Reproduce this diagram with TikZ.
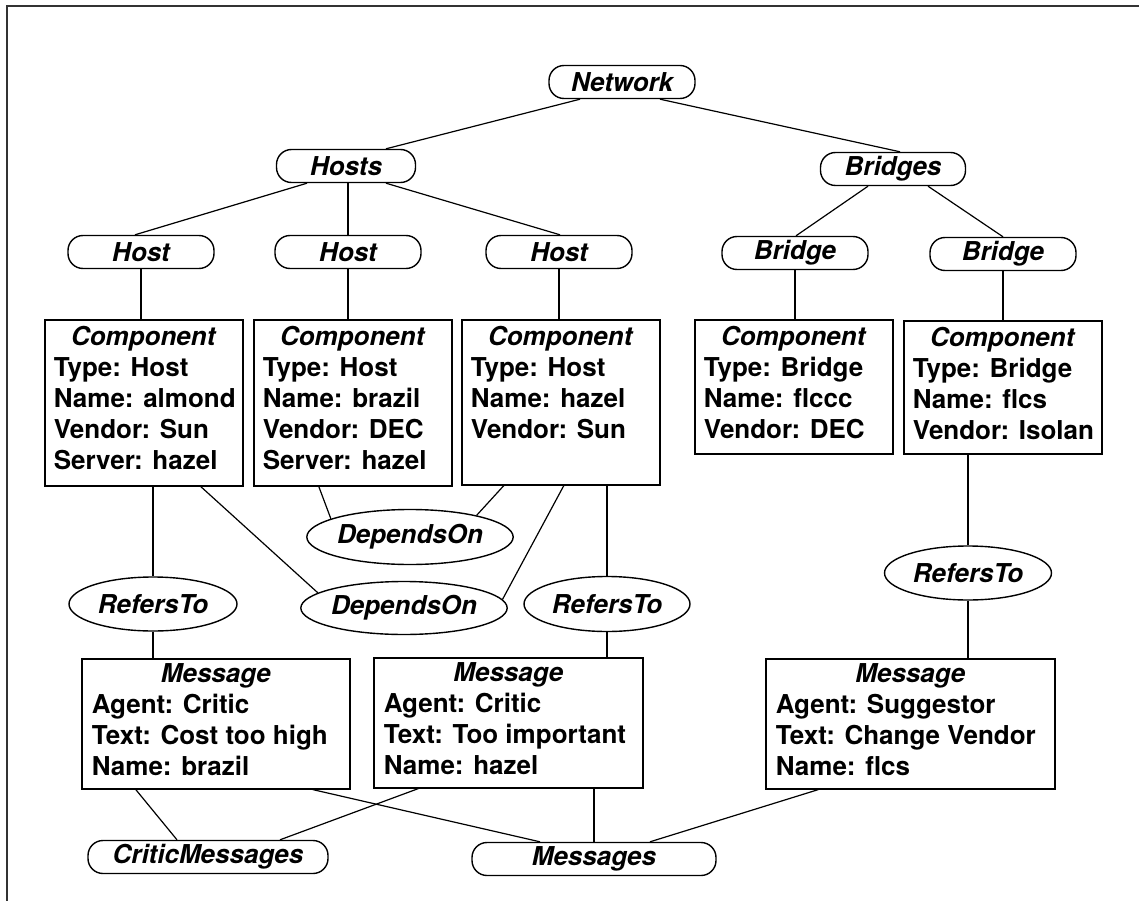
\documentclass[tikz,border=0pt]{standalone}
\usepackage{fontspec}
\setmainfont{TeX Gyre Heros}
\usetikzlibrary{shapes.geometric}
\begin{document}
\begin{tikzpicture}[x=1pt,y=-1pt,
  every node/.style={font=\fontsize{26}{31}\selectfont\bfseries},
  pill/.style={draw, line width=1.4pt, rounded corners=15pt, minimum height=33pt, inner sep=0pt, font=\fontsize{26}{31}\selectfont\bfseries\itshape},
  oval/.style={draw, line width=1.4pt, ellipse, inner sep=0pt, font=\fontsize{26}{31}\selectfont\bfseries\itshape},
  rec/.style={draw, line width=1.6pt, inner sep=0pt, anchor=north west},
  link/.style={line width=1.2pt}
]
\useasboundingbox (0,0) rectangle (1139,901);
\draw[line width=2.2pt, black!80] (7,901) -- (7,6) -- (1139,6);

% tree nodes
\node[pill, minimum width=146pt] (net) at (622,82) {Network};
\node[pill, minimum width=139pt] (hosts) at (346,166) {Hosts};
\node[pill, minimum width=145pt] (bridges) at (893,169) {Bridges};
\node[pill, minimum width=146pt] (h1) at (141,252) {Host};
\node[pill, minimum width=146pt] (h2) at (348,252) {Host};
\node[pill, minimum width=146pt] (h3) at (559,252) {Host};
\node[pill, minimum width=146pt] (b1) at (795,253) {Bridge};
\node[pill, minimum width=146pt] (b2) at (1003,254) {Bridge};

% components
\node[rec] (c1) at (44,319) {\parbox[c][166pt][t]{198pt}{\centering\rule{0pt}{26pt}\textit{Component}\par\raggedright\leftskip=9pt Type: Host\\Name: almond\\Vendor: Sun\\Server: hazel}};
\node[rec] (c2) at (253,319) {\parbox[c][166pt][t]{198pt}{\centering\rule{0pt}{26pt}\textit{Component}\par\raggedright\leftskip=9pt Type: Host\\Name: brazil\\Vendor: DEC\\Server: hazel}};
\node[rec] (c3) at (461,319) {\parbox[c][165pt][t]{198pt}{\centering\rule{0pt}{26pt}\textit{Component}\par\raggedright\leftskip=9pt Type: Host\\Name: hazel\\Vendor: Sun}};
\node[rec] (c4) at (694,319) {\parbox[c][134pt][t]{198pt}{\centering\rule{0pt}{26pt}\textit{Component}\par\raggedright\leftskip=9pt Type: Bridge\\Name: flccc\\Vendor: DEC}};
\node[rec] (c5) at (903,320) {\parbox[c][133pt][t]{198pt}{\centering\rule{0pt}{26pt}\textit{Component}\par\raggedright\leftskip=9pt Type: Bridge\\Name: flcs\\Vendor: Isolan}};

% relations
\node[oval, minimum width=168pt, minimum height=54pt] (r1) at (153,604) {RefersTo};
\node[oval, minimum width=184pt, minimum height=55pt] (d1) at (410,537) {DependsOn};
\node[oval, minimum width=196pt, minimum height=53pt] (d2) at (404,608) {DependsOn};
\node[oval, minimum width=166pt, minimum height=55pt] (r2) at (607,604) {RefersTo};
\node[oval, minimum width=167pt, minimum height=54pt] (r3) at (968,573) {RefersTo};

% messages
\node[rec] (m1) at (81,658) {\parbox[c][130pt][t]{268pt}{\centering\rule{0pt}{24pt}\textit{Message}\par\raggedright\leftskip=10pt Agent: Critic\\Text: Cost too high\\Name: brazil}};
\node[rec] (m2) at (373,657) {\parbox[c][130pt][t]{269pt}{\centering\rule{0pt}{24pt}\textit{Message}\par\raggedright\leftskip=10pt Agent: Critic\\Text: Too important\\Name: hazel}};
\node[rec] (m3) at (765,658) {\parbox[c][130pt][t]{289pt}{\centering\rule{0pt}{24pt}\textit{Message}\par\raggedright\leftskip=10pt Agent: Suggestor\\Text: Change Vendor\\Name: flcs}};

\node[pill, minimum width=240pt] (cm) at (208,857) {CriticMessages};
\node[pill, minimum width=244pt] (msgs) at (594,859) {Messages};

% connectors
\draw[link] ([xshift=-42pt]net.south) -- ([xshift=40pt]hosts.north);
\draw[link] ([xshift=38pt]net.south) -- ([xshift=7pt]bridges.north);
\draw[link] ([xshift=-39pt]hosts.south) -- ([xshift=-6pt]h1.north);
\draw[link] (h2.north |- hosts.south) -- (h2.north);
\draw[link] ([xshift=40pt]hosts.south) -- ([xshift=1pt]h3.north);
\draw[link] ([xshift=-25pt]bridges.south) -- ([xshift=1pt]b1.north);
\draw[link] ([xshift=35pt]bridges.south) -- (b2.north);

\draw[link] (h1.south) -- (h1.south |- c1.north);
\draw[link] (h2.south) -- (h2.south |- c2.north);
\draw[link] (h3.south) -- (h3.south |- c3.north);
\draw[link] (b1.south) -- (b1.south |- c4.north);
\draw[link] (b2.south) -- (b2.south |- c5.north);

\draw[link] (r1.north |- c1.south) -- (r1.north);
\draw[link] ([xshift=57pt]c1.south) -- (d2.170);
\draw[link] (d2.5) -- ([xshift=3pt]c3.south);
\draw[link] ([xshift=-34pt]c2.south) -- (d1.167);
\draw[link] (d1.18) -- ([xshift=-57pt]c3.south);
\draw[link] (r2.north |- c3.south) -- (r2.north);
\draw[link] (r3.north |- c5.south) -- (r3.north);

\draw[link] (r1.south) -- (r1.south |- m1.north);
\draw[link] (r2.south) -- (r2.south |- m2.north);
\draw[link] (r3.south) -- (r3.south |- m3.north);

\draw[link] ([xshift=-80pt]m1.south) -- ([xshift=-31pt]cm.north);
\draw[link] ([xshift=-90pt]m2.south) -- ([xshift=72pt]cm.north);
\draw[link] ([xshift=97pt]m1.south) -- ([xshift=-54pt]msgs.north);
\draw[link] (msgs.north |- m2.south) -- (msgs.north);
\draw[link] ([xshift=-92pt]m3.south) -- ([xshift=56pt]msgs.north);
\end{tikzpicture}
\end{document}
